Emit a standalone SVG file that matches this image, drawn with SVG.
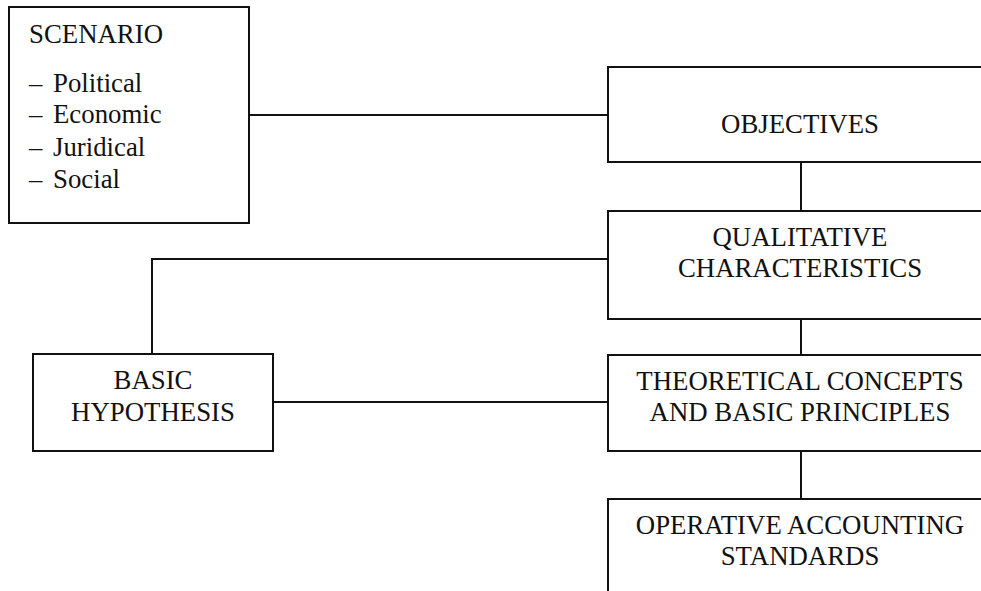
<svg xmlns="http://www.w3.org/2000/svg" width="981" height="591" viewBox="0 0 981 591">
  <style>
    .box { fill: #ffffff; stroke: #111111; stroke-width: 2; }
    .link { fill: none; stroke: #111111; stroke-width: 2; }
    text { font-family: "Liberation Serif", "Times New Roman", serif; font-size: 26.8px; fill: #111111; }
    .c { text-anchor: middle; }
  </style>
  <rect width="981" height="591" fill="#ffffff"/>

  <!-- connectors -->
  <g id="connectors">
    <line class="link" x1="249" y1="115" x2="608" y2="115"/>
    <line class="link" x1="801" y1="162" x2="801" y2="211"/>
    <polyline class="link" points="608,259 152,259 152,354"/>
    <line class="link" x1="801" y1="319" x2="801" y2="355"/>
    <line class="link" x1="273" y1="402" x2="608" y2="402"/>
    <line class="link" x1="801" y1="451" x2="801" y2="499"/>
  </g>

  <g id="scenario">
    <rect class="box" x="9" y="7" width="240" height="216"/>
    <text x="29" y="43">SCENARIO</text>
    <text x="29" y="92">–<tspan x="53">Political</tspan></text>
    <text x="29" y="123">–<tspan x="53">Economic</tspan></text>
    <text x="29" y="156">–<tspan x="53">Juridical</tspan></text>
    <text x="29" y="188">–<tspan x="53">Social</tspan></text>
  </g>

  <g id="objectives">
    <rect class="box" x="608" y="67" width="400" height="95"/>
    <text class="c" x="800" y="133">OBJECTIVES</text>
  </g>

  <g id="qualitative">
    <rect class="box" x="608" y="211" width="400" height="108"/>
    <text class="c" x="800" y="246">QUALITATIVE</text>
    <text class="c" x="800" y="277">CHARACTERISTICS</text>
  </g>

  <g id="hypothesis">
    <rect class="box" x="33" y="354" width="240" height="97"/>
    <text class="c" x="153" y="389">BASIC</text>
    <text class="c" x="153" y="421">HYPOTHESIS</text>
  </g>

  <g id="concepts">
    <rect class="box" x="608" y="355" width="400" height="96"/>
    <text class="c" x="800" y="390">THEORETICAL CONCEPTS</text>
    <text class="c" x="800" y="421">AND BASIC PRINCIPLES</text>
  </g>

  <g id="standards">
    <rect class="box" x="608" y="499" width="400" height="120"/>
    <text class="c" x="800" y="534">OPERATIVE ACCOUNTING</text>
    <text class="c" x="800" y="565">STANDARDS</text>
  </g>
</svg>
